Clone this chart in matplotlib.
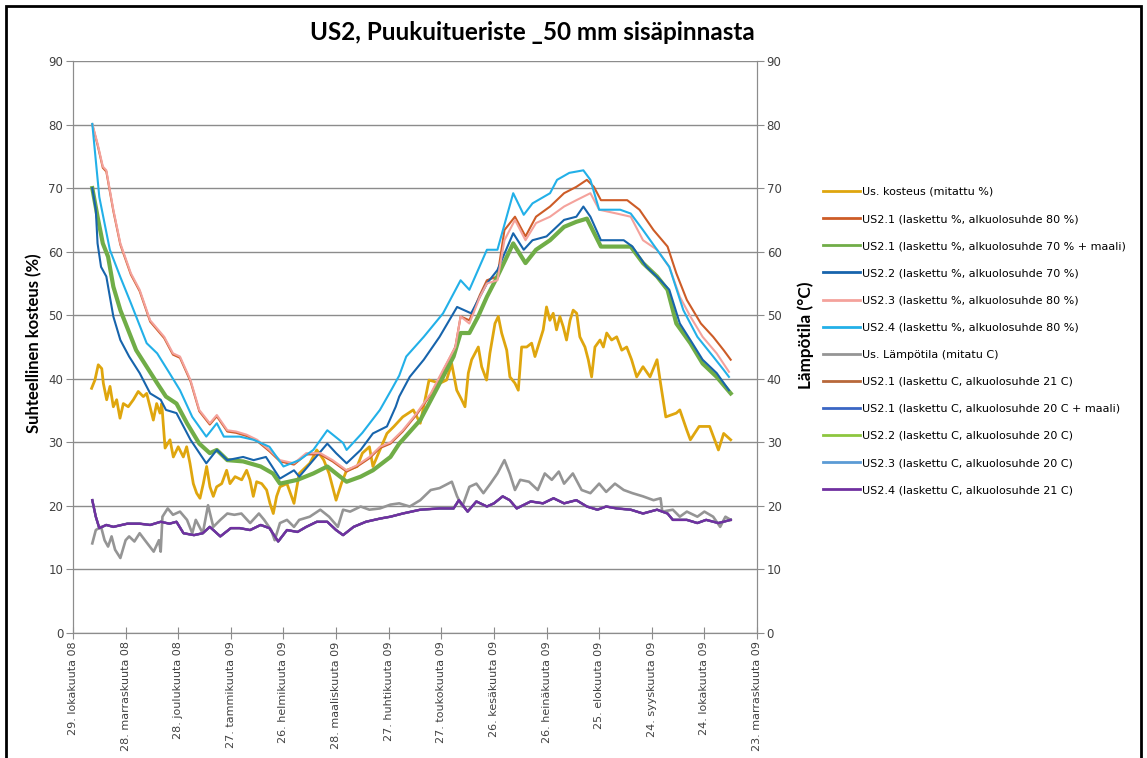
import numpy as np
import matplotlib
matplotlib.use('Agg')
import matplotlib.pyplot as plt
from matplotlib.patches import Rectangle

# x = days from 29.10.2008
tick_days = [0, 30, 60, 90, 120, 150, 180, 210, 240, 270, 300, 330, 360, 390]
tick_labels = ['29. lokakuuta 08', '28. marraskuuta 08', '28. joulukuuta 08',
               '27. tammikuuta 09', '26. helmikuuta 09', '28. maaliskuuta 09',
               '27. huhtikuuta 09', '27. toukokuuta 09', '26. kesäkuuta 09',
               '26. heinäkuuta 09', '25. elokuuta 09', '24. syyskuuta 09',
               '24. lokakuuta 09', '23. marraskuuta 09']

# measured RH (%)
rh_meas_d = [10.6, 12.5, 14.4, 16.4, 17.3, 19.2, 21.1, 23, 24.9, 26.8, 28.7, 31.5, 34.4, 37.2, 40.1, 42, 43.9, 45.8, 47.7, 49.6,
             50.6, 52.5, 55.3, 57.2, 60, 62.9, 64.8, 66.7, 68.6, 70.5, 72.4, 74.3, 76.2, 78.1, 80, 81.9, 84.8, 87.6, 89.5, 92.4,
             96.2, 99, 100.9, 102.8, 104.7, 107.6, 110.4, 112.3, 114.2, 116.1, 118,
             122, 126, 129, 135, 139, 143, 146, 150, 153, 156, 162, 165, 169, 171, 175, 179, 183, 188, 194, 198,
             203, 209.2, 213, 215.9, 218.8, 221.6, 223.5, 225.4, 227.3, 229.2, 231.1, 233, 235.8, 237.7, 240.6, 242.5, 244.4, 247.3, 249.1, 252,
             253.9, 255.8, 258.7, 261.5, 263.4, 266.3, 268.1, 270, 271.9, 273.8, 275.7, 277.6, 279.5, 281.4, 283.4, 285.2, 287.2, 289, 291.9, 293.8,
             295.7, 297.6, 300.5, 302.4, 304.3, 307.1, 310, 312.9, 315.7, 318.5, 321.4,
             325, 329, 333, 335, 338, 344, 346, 350, 352, 357, 363, 368, 371, 375]
rh_meas = [38.5, 39.8, 42.2, 41.6, 39.3, 36.7, 38.8, 35.6, 36.7, 33.8, 36.1, 35.6, 36.7, 38.0, 37.2, 37.7, 35.6, 33.5, 36.1, 34.6,
           36.1, 29.1, 30.4, 27.7, 29.3, 27.7, 29.3, 26.7, 23.5, 22.0, 21.2, 23.5, 26.2, 23.0, 21.5, 23.0, 23.5, 25.6, 23.5, 24.6,
           24.1, 25.6, 24.1, 21.5, 23.8, 23.5, 22.5, 20.4, 18.8, 21.5, 23.0,
           23.5, 20.4, 25.1, 26.7, 28.8, 27.2, 25.1, 20.9, 23.5, 25.6, 26.2, 28.3, 29.3, 26.2, 28.8, 31.4, 32.5, 34.0, 35.1, 33.0,
           39.8, 39.3, 39.8, 42.4, 38.2, 36.7, 35.6, 40.9, 43.0, 44.0, 45.0, 41.9, 39.8, 44.0, 48.7, 49.8, 47.2, 44.5, 40.3, 39.3,
           38.2, 45.0, 45.0, 45.6, 43.5, 46.1, 47.7, 51.3, 49.2, 50.3, 47.7, 49.8, 48.2, 46.1, 49.2, 50.8, 50.3, 46.6, 45.0, 43.0,
           40.3, 45.0, 46.1, 45.0, 47.2, 46.1, 46.6, 44.5, 45.0, 43.0, 40.3,
           41.9, 40.3, 43.0, 39.3, 34.0, 34.6, 35.1, 31.9, 30.4, 32.5, 32.5, 28.8, 31.4, 30.4]

# calculated RH series
rh_us23_d = [11, 14, 17, 19, 23, 27, 33, 38, 44, 52, 57, 61, 67, 72, 78, 82, 88, 93, 99, 105,
             112, 118, 126, 133, 141, 148, 156, 162, 169, 175, 181, 188, 196, 204, 211, 218, 221, 226, 232, 236,
             242, 246, 252, 258, 264, 272, 280, 287, 295, 300, 310, 318, 325, 333, 340, 346, 352, 359, 367, 374]
rh_us23 = [80.1, 77.0, 73.4, 72.8, 66.6, 61.3, 56.6, 54.0, 49.2, 46.6, 44.0, 43.5, 39.8, 35.1, 33.0, 34.3, 31.9, 31.7, 31.2, 30.4,
           28.8, 27.2, 26.7, 28.3, 28.3, 27.2, 25.6, 26.4, 27.7, 29.3, 30.0, 31.9, 34.6, 37.7, 41.4, 45.0, 49.8, 48.7, 52.9, 55.0,
           55.5, 61.8, 65.0, 61.8, 64.5, 65.5, 67.1, 68.1, 69.2, 66.6, 66.0, 65.5, 61.8, 60.3, 57.6, 52.9, 49.8, 46.6, 44.0, 41.1]

rh_us21_d = [11, 14, 17, 19, 23, 27, 33, 38, 44, 52, 57, 61, 67, 72, 78, 82, 88, 93, 99, 105,
             112, 118, 126, 133, 141, 148, 156, 162, 169, 175, 181, 188, 196, 204, 211, 218, 221, 226, 232, 236,
             242, 246, 252, 258, 264, 272, 280, 287, 293, 297, 301, 310, 316, 323, 331, 339, 344, 350, 358, 365,
             371, 375]
rh_us21 = [80.0, 76.8, 73.2, 72.6, 66.4, 61.1, 56.4, 53.8, 49.0, 46.4, 43.8, 43.3, 39.6, 34.9, 32.8, 34.1, 31.7, 31.5, 31.0, 30.2,
           28.6, 27.0, 26.5, 28.1, 28.1, 27.0, 25.4, 26.2, 27.5, 29.1, 29.8, 31.7, 34.4, 37.5, 41.2, 45.0, 49.8, 49.2, 53.2, 55.5,
           56.1, 63.4, 65.5, 62.4, 65.5, 67.1, 69.2, 70.2, 71.3, 70.2, 68.1, 68.1, 68.1, 66.6, 63.4, 60.8, 56.6, 52.4, 48.7, 46.6,
           44.5, 43.0]

rh_us24_d = [11, 15, 21, 27, 33, 42, 48, 55, 61, 68, 76, 82, 86, 95, 103, 112, 120, 129, 137, 145,
             154, 156, 165, 175, 182, 186, 190, 200, 211, 221, 226, 236, 242, 251, 257, 262, 272, 276, 283, 291,
             295, 300, 312, 318, 325, 333, 340, 348, 356, 365, 371, 374]
rh_us24 = [80.1, 68.6, 60.3, 56.0, 51.9, 45.6, 44.0, 40.9, 38.2, 34.0, 30.9, 33.0, 30.9, 30.9, 30.4, 29.3, 26.2, 27.2, 28.8, 31.9,
           29.9, 28.8, 31.5, 35.1, 38.5, 40.5, 43.5, 46.6, 50.3, 55.5, 54.0, 60.3, 60.3, 69.2, 65.8, 67.6, 69.2, 71.3, 72.4, 72.8,
           71.3, 66.6, 66.6, 66.0, 63.4, 60.3, 57.6, 50.8, 46.6, 43.5, 41.4, 40.3]

rh_us22_d = [11, 13, 14, 16, 19, 23, 27, 32, 38, 44, 50, 53, 59, 67, 76, 82, 88, 97, 103, 110,
             118, 126, 129, 137, 145, 150, 156, 164, 171, 179, 184, 186, 192, 200, 209, 219, 227, 236, 242, 251,
             257, 262, 270, 280, 287, 291, 295, 301, 306, 314, 319, 327, 335, 340, 346, 352, 359, 367, 374]
rh_us22 = [70.0, 66.6, 61.3, 57.6, 56.1, 49.8, 46.1, 43.5, 40.9, 37.7, 36.7, 35.1, 34.6, 30.4, 26.7, 28.8, 27.2, 27.7, 27.2, 27.7,
           24.3, 25.6, 24.6, 27.2, 29.8, 28.3, 26.7, 28.8, 31.4, 32.5, 35.6, 37.2, 40.3, 43.0, 46.6, 51.3, 50.3, 55.0, 57.1, 62.9,
           60.3, 61.8, 62.4, 65.0, 65.5, 67.1, 65.5, 61.8, 61.8, 61.8, 60.8, 57.6, 55.5, 54.0, 48.7, 46.1, 43.0, 40.9, 38.2]

rh_us21m_d = [11, 14, 17, 20, 23, 27, 33, 36, 42, 48, 53, 59, 65, 72, 78, 82, 88, 97, 107, 114,
              118, 128, 137, 145, 150, 156, 164, 171, 181, 186, 188, 198, 207, 217, 221, 226, 231, 236, 242, 251,
              258, 264, 272, 280, 287, 293, 301, 310, 318, 325, 333, 339, 344, 352, 359, 367, 375]
rh_us21m = [70.0, 65.5, 61.3, 59.2, 54.5, 50.8, 46.6, 44.5, 41.9, 39.3, 37.2, 36.1, 33.0, 29.8, 28.3, 28.8, 27.2, 27.0, 26.2, 25.1,
            23.5, 24.1, 25.1, 26.2, 25.1, 23.8, 24.6, 25.6, 27.7, 29.8, 30.4, 33.5, 38.2, 43.5, 47.2, 47.2, 49.8, 52.9, 56.1, 61.3,
            58.2, 60.3, 61.8, 63.9, 64.7, 65.2, 60.8, 60.8, 60.8, 58.2, 56.1, 54.0, 48.7, 45.6, 42.4, 40.3, 37.7]

# measured temperature (C)
t_meas_d = [11, 13, 16, 18, 20, 22, 24, 27, 30, 32, 35, 38, 41, 46, 49, 50, 51, 54, 57, 61,
            65, 68, 70, 74, 77, 80, 84, 88, 92, 96, 101, 106, 109, 113, 115, 118, 122, 126, 129, 135,
            141, 146, 151, 154, 158, 164, 169, 175, 181, 186, 192, 198, 204, 209, 216, 219, 222, 226, 230, 234,
            238, 242, 246, 249, 252, 255, 260, 265, 269, 273, 277, 280, 285, 290, 295, 300, 304, 309, 314, 319,
            325, 331, 335, 336, 342, 346, 350, 356, 360, 365, 369, 372, 375]
t_meas = [14.1, 16.2, 16.7, 14.6, 13.6, 15.2, 13.1, 11.8, 14.6, 15.2, 14.4, 15.7, 14.6, 12.8, 14.6, 12.8, 18.3, 19.6, 18.6, 19.1,
          17.8, 15.7, 17.8, 15.7, 20.1, 16.7, 17.8, 18.8, 18.6, 18.8, 17.3, 18.8, 17.8, 16.2, 14.6, 17.3, 17.8, 16.7, 17.8, 18.3,
          19.4, 18.3, 16.7, 19.4, 19.1, 19.9, 19.4, 19.6, 20.2, 20.4, 19.9, 20.9, 22.5, 22.8, 23.8, 21.5, 19.9, 23.0, 23.5, 22.0,
          23.5, 25.1, 27.2, 25.1, 22.5, 24.1, 23.8, 22.5, 25.1, 24.1, 25.4, 23.5, 25.1, 22.5, 22.0, 23.5, 22.2, 23.5, 22.5, 22.0,
          21.5, 20.9, 21.2, 19.1, 19.4, 18.3, 19.1, 18.3, 19.1, 18.3, 16.7, 18.3, 17.8]

# calculated temperature (all five runs lie on top of each other)
t_calc_d = [11, 13, 15, 19, 23, 31, 38, 44, 50, 55, 59, 63, 69, 74, 78, 84, 90, 95, 101, 107,
            112, 117, 122, 128, 133, 139, 145, 150, 154, 160, 167, 175, 181, 188, 198, 209, 217, 220, 225, 230,
            236, 240, 245, 249, 253, 261, 268, 274, 280, 287, 293, 299, 304, 310, 318, 325, 333, 339, 342, 350,
            356, 361, 368, 375]
t_calc = [20.9, 18.3, 16.5, 17.0, 16.7, 17.2, 17.2, 17.0, 17.5, 17.2, 17.5, 15.7, 15.4, 15.7, 16.7, 15.2, 16.5, 16.5, 16.2, 17.0,
          16.5, 14.4, 16.2, 15.9, 16.7, 17.5, 17.5, 16.2, 15.4, 16.7, 17.5, 18.0, 18.3, 18.8, 19.4, 19.6, 19.6, 20.9, 19.1, 20.7,
          19.9, 20.4, 21.5, 20.9, 19.6, 20.7, 20.4, 21.2, 20.4, 20.9, 19.9, 19.4, 19.9, 19.6, 19.4, 18.8, 19.4, 18.8, 17.8, 17.8,
          17.3, 17.8, 17.3, 17.8]

rh_series = [
    (rh_meas_d, rh_meas, 'Us. kosteus (mitattu %)', '#DFA60E', 2.0),
    (rh_us21_d, rh_us21, 'US2.1 (laskettu %, alkuolosuhde 80 %)', '#CD5C27', 1.5),
    (rh_us21m_d, rh_us21m, 'US2.1 (laskettu %, alkuolosuhde 70 % + maali)', '#70AD47', 3.0),
    (rh_us22_d, rh_us22, 'US2.2 (laskettu %, alkuolosuhde 70 %)', '#1764AC', 1.5),
    (rh_us23_d, rh_us23, 'US2.3 (laskettu %, alkuolosuhde 80 %)', '#F4A29C', 1.5),
    (rh_us24_d, rh_us24, 'US2.4 (laskettu %, alkuolosuhde 80 %)', '#22B0E8', 1.5),
]
t_series = [
    (t_meas_d, t_meas, 'Us. Lämpötila (mitatu C)', '#959595', 1.9),
    (t_calc_d, t_calc, 'US2.1 (laskettu C, alkuolosuhde 21 C)', '#B8683A', 1.5),
    (t_calc_d, t_calc, 'US2.1 (laskettu C, alkuolosuhde 20 C + maali)', '#3A66C4', 1.5),
    (t_calc_d, t_calc, 'US2.2 (laskettu C, alkuolosuhde 20 C)', '#8DC63F', 1.5),
    (t_calc_d, t_calc, 'US2.3 (laskettu C, alkuolosuhde 20 C)', '#5B9BD5', 1.5),
    (t_calc_d, t_calc, 'US2.4 (laskettu C, alkuolosuhde 21 C)', '#7030A0', 1.8),
]

grid_col = '#8c8c8c'
fig = plt.figure(figsize=(11.47, 7.58), dpi=100)
ax = fig.add_axes([73/1147, 1-633/758, 684/1147, 572/758])
ax2 = ax.twinx()

handles = []
for d, v, lab, col, lw in rh_series:
    h, = ax.plot(d, v, color=col, lw=lw, label=lab)
    handles.append(h)
for d, v, lab, col, lw in t_series:
    h, = ax2.plot(d, v, color=col, lw=lw, label=lab)
    handles.append(h)

for a in (ax, ax2):
    a.set_ylim(0, 90)
    a.set_yticks(np.arange(0, 91, 10))
    a.set_xlim(0, 390)
    for s in a.spines.values():
        s.set_color(grid_col)
    a.spines['top'].set_visible(False)
    a.tick_params(axis='y', length=5, color=grid_col, labelsize=8.5, labelcolor='#404040', pad=2)
ax.set_facecolor('none')
ax.grid(axis='y', color=grid_col, lw=1)
ax.set_axisbelow(True)
ax.set_xticks(tick_days)
ax.set_xticklabels(tick_labels, rotation=90, fontsize=8, color='#404040')
ax.tick_params(axis='x', direction='inout', length=8, color=grid_col, pad=2)

fig.text(532/1147, 1-33/758, 'US2, Puukuitueriste _50 mm sisäpinnasta', ha='center', va='center',
         fontsize=17.5, fontweight='bold', family='Lato')
fig.text(34/1147, 1-343/758, 'Suhteellinen kosteus (%)', rotation=90, ha='center', va='center',
         fontsize=12, fontweight='bold', family='Lato')
fig.text(806/1147, 1-335/758, 'Lämpötila (°C)', rotation=90, ha='center', va='center',
         fontsize=12.3, fontweight='bold', family='Lato')

leg = fig.legend(handles=handles, loc='upper left', bbox_to_anchor=(823/1147, 1-187/758),
                 frameon=False, fontsize=8, handlelength=3.33, handletextpad=0.2,
                 labelspacing=1.54, borderpad=0, borderaxespad=0)
for ln in leg.get_lines():
    ln.set_linewidth(2.0)

fig.patches.append(Rectangle((6/1147, -0.1), 1135/1147, 1.1-6/758, transform=fig.transFigure,
                             fill=False, edgecolor='black', lw=2))

plt.savefig('out.png', dpi=100)
